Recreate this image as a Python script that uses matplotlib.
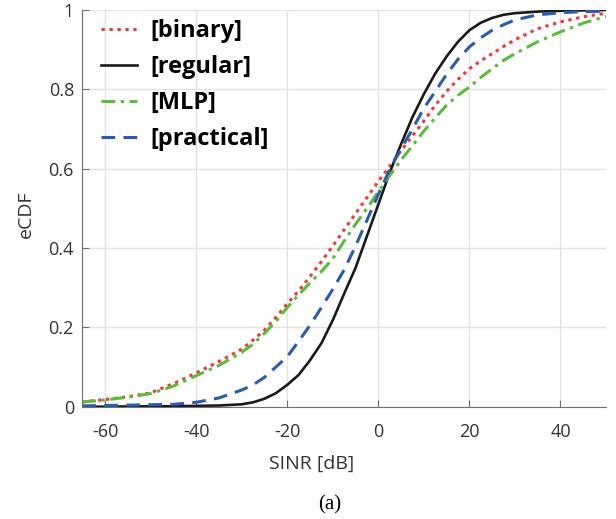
import matplotlib
matplotlib.use('Agg')
import matplotlib.pyplot as plt

# SINR grid (dB) and eCDF values
sinr = [-65, -60, -55, -50, -45, -40, -35, -30, -27.5, -25, -22.5, -20, -17.5, -15,
        -12.5, -10, -7.5, -5, -2.5, 0, 2.5, 5, 7.5, 10, 12.5, 15, 17.5, 20, 22.5,
        25, 27.5, 30, 35, 40, 45, 50]

binary = [0.012, 0.018, 0.025, 0.035, 0.058, 0.085, 0.114, 0.145, 0.168, 0.193, 0.225,
          0.26, 0.292, 0.328, 0.366, 0.405, 0.446, 0.487, 0.527, 0.568, 0.606, 0.645,
          0.683, 0.72, 0.76, 0.795, 0.825, 0.852, 0.872, 0.89, 0.908, 0.925, 0.953,
          0.97, 0.983, 0.992]
regular = [0.0, 0.0, 0.0005, 0.001, 0.001, 0.002, 0.003, 0.006, 0.011, 0.02, 0.034,
           0.055, 0.08, 0.117, 0.16, 0.218, 0.285, 0.35, 0.43, 0.51, 0.59, 0.662,
           0.73, 0.788, 0.84, 0.883, 0.92, 0.949, 0.968, 0.98, 0.988, 0.992, 0.996,
           0.998, 0.999, 1.0]
mlp = [0.012, 0.017, 0.024, 0.033, 0.052, 0.078, 0.104, 0.137, 0.158, 0.185, 0.215,
       0.25, 0.282, 0.312, 0.341, 0.373, 0.418, 0.46, 0.50, 0.542, 0.583, 0.622,
       0.658, 0.695, 0.728, 0.76, 0.785, 0.806, 0.83, 0.852, 0.873, 0.89, 0.92,
       0.945, 0.967, 0.984]
practical = [0.002, 0.003, 0.004, 0.005, 0.006, 0.011, 0.022, 0.042, 0.055, 0.074, 0.1,
             0.126, 0.165, 0.205, 0.25, 0.296, 0.345, 0.405, 0.47, 0.535, 0.598, 0.65,
             0.70, 0.752, 0.795, 0.838, 0.876, 0.907, 0.93, 0.949, 0.963, 0.975, 0.988,
             0.993, 0.996, 0.997]

labels = ['[binary]', '[regular]', '[MLP]', '[practical]']
xticks = [-60, -40, -20, 0, 20, 40]
yticks = [0, 0.2, 0.4, 0.6, 0.8, 1]
ytick_labels = ['0', '0.2', '0.4', '0.6', '0.8', '1']

plt.rcParams['font.family'] = ['Open Sans', 'DejaVu Sans']
plt.rcParams['axes.unicode_minus'] = False

fig = plt.figure(figsize=(6.16, 5.19), dpi=100)
ax = fig.add_axes([0.1336, 0.2164, 0.8502, 0.7643])

ax.plot(sinr, binary, linestyle=(0, (1.1, 1.5)), color='#ee3b3b', lw=2.2, label=labels[0])
ax.plot(sinr, regular, '-', color='#1a1a1a', lw=1.9, label=labels[1])
ax.plot(sinr, mlp, linestyle=(0, (4.5, 1.8, 1.1, 1.8)), color='#5bbb3b', lw=2.2, label=labels[2])
ax.plot(sinr, practical, linestyle=(0, (4.5, 2.7)), color='#2a5db0', lw=2.2, label=labels[3])

ax.set_xlim(-65, 50)
ax.set_ylim(0, 1)
ax.set_xticks(xticks)
ax.set_yticks(yticks)
ax.set_yticklabels(ytick_labels)
ax.grid(True, color='#e3e3e3', lw=1.0)
ax.set_axisbelow(True)
for s in ['top', 'right']:
    ax.spines[s].set_visible(False)
for s in ['left', 'bottom']:
    ax.spines[s].set_color('#707070')
ax.tick_params(direction='in', colors='#707070', labelcolor='#333333', labelsize=13, length=5)
ax.tick_params(axis='x', pad=12)
ax.tick_params(axis='y', pad=6)
ax.set_xlabel('SINR [dB]', fontsize=14, color='#333333')
ax.set_ylabel('eCDF', fontsize=14, color='#333333')
ax.xaxis.set_label_coords(0.437, -0.122)
ax.yaxis.set_label_coords(-0.090, 0.485)

ax.legend(loc='upper left', frameon=False, prop={'weight': 'bold', 'size': 17},
          handlelength=1.55, handletextpad=0.54, labelspacing=0.5, borderaxespad=0.0,
          bbox_to_anchor=(0.017, 1.0))

fig.text(0.536, 0.027, '(a)', family='Liberation Serif', fontsize=15, ha='center', va='center')

fig.savefig('out.png', dpi=100)
